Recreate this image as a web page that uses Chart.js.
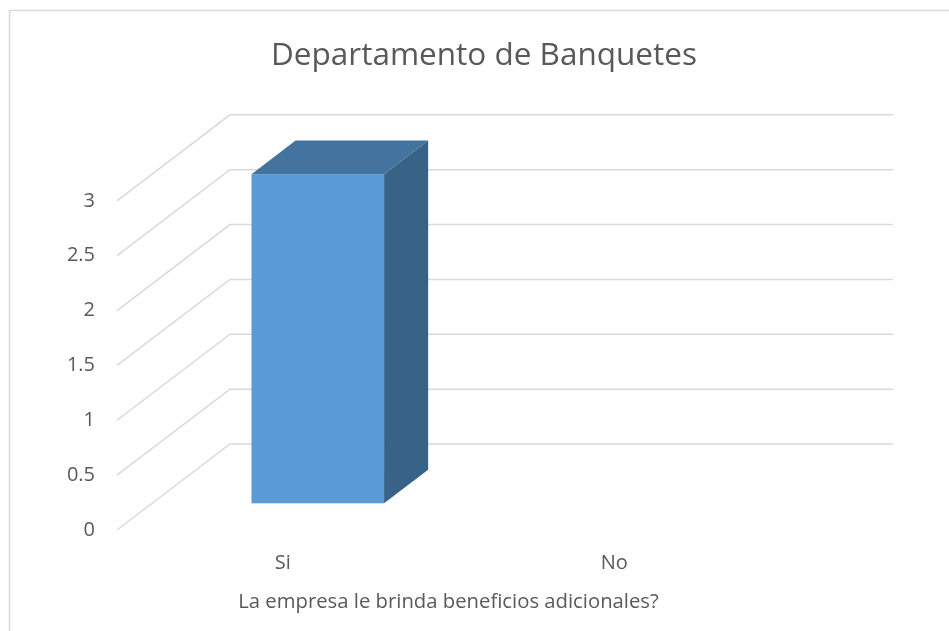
<!DOCTYPE html>
<html>
<head>
<meta charset="utf-8">
<script src="https://cdn.jsdelivr.net/npm/chart.js@4.4.0/dist/chart.umd.min.js"></script>
<style>
    html, body { margin: 0; padding: 0; background: #fff; }
    #wrap { width: 949px; height: 631px; }
</style>
</head>
<body>
<div id="wrap"><canvas id="chart" width="949" height="631"></canvas></div>
<script>
const categories = ['Si', 'No'];
const values = [3, 0];
const yTicks = [0, 0.5, 1, 1.5, 2, 2.5, 3];
const chartTitle = 'Departamento de Banquetes';
const axisTitle = 'La empresa le brinda beneficios adicionales?';

// profundidad de la vista 3D (en pixeles) y donde se ubica la barra dentro de ella
const depth = { dx: 113, dy: 86, front: 0.31, back: 0.70 };
const colors = {
    front: '#5B9BD5',
    top: '#44739F',
    side: '#386387',
    grid: '#D9D9D9',
    text: '#595959'
};
const font = "'Open Sans', sans-serif";

function fillPoly(ctx, pts, color) {
    ctx.fillStyle = color;
    ctx.beginPath();
    ctx.moveTo(pts[0][0], pts[0][1]);
    for (let i = 1; i < pts.length; i++) ctx.lineTo(pts[i][0], pts[i][1]);
    ctx.closePath();
    ctx.fill();
}

const bar3d = {
    id: 'bar3d',
    beforeDraw(chart) {
        const ctx = chart.ctx;
        ctx.save();
        ctx.strokeStyle = colors.grid;
        ctx.lineWidth = 1.5;
        ctx.strokeRect(9.5, 10.5, 1200, 1200);
        ctx.restore();
    },
    beforeDatasetsDraw(chart) {
        const ctx = chart.ctx;
        const area = chart.chartArea;
        const y = chart.scales.y;
        ctx.save();
        // paredes: diagonal del frente y linea horizontal al fondo
        ctx.strokeStyle = colors.grid;
        ctx.lineWidth = 1.5;
        y.ticks.forEach(t => {
            const fy = y.getPixelForValue(t.value);
            ctx.beginPath();
            ctx.moveTo(area.left, fy);
            ctx.lineTo(area.left + depth.dx, fy - depth.dy);
            ctx.lineTo(area.right + depth.dx, fy - depth.dy);
            ctx.stroke();
        });
        // barras en 3D
        const fx = depth.dx * depth.front, fyOff = depth.dy * depth.front;
        const ddx = depth.dx * (depth.back - depth.front);
        const ddy = depth.dy * (depth.back - depth.front);
        chart.getDatasetMeta(0).data.forEach((bar, i) => {
            if (!values[i]) return;
            const half = bar.width / 2;
            const l = bar.x - half + fx, r = bar.x + half + fx;
            const t = bar.y - fyOff, b = bar.base - fyOff;
            fillPoly(ctx, [[l, t], [r, t], [r + ddx, t - ddy], [l + ddx, t - ddy]], colors.top);
            fillPoly(ctx, [[r, t], [r + ddx, t - ddy], [r + ddx, b - ddy], [r, b]], colors.side);
            ctx.fillStyle = colors.front;
            ctx.fillRect(l, t, r - l, b - t);
        });
        ctx.restore();
        return false;
    }
};

new Chart(document.getElementById('chart'), {
    type: 'bar',
    data: {
        labels: categories,
        datasets: [{
            label: 'Serie 1',
            data: values,
            backgroundColor: colors.front,
            categoryPercentage: 1,
            barPercentage: 0.4
        }]
    },
    options: {
        responsive: false,
        animation: false,
        layout: { padding: { left: 19, top: 0, right: 0, bottom: 0 } },
        plugins: {
            legend: { display: false },
            tooltip: { enabled: false },
            title: {
                display: true,
                text: chartTitle,
                color: colors.text,
                font: { family: font, size: 31.5, weight: 'normal', lineHeight: 1.2 },
                padding: { top: 37, bottom: 126 }
            }
        },
        scales: {
            x: {
                grid: { display: false, drawTicks: false },
                border: { display: false },
                ticks: { color: colors.text, padding: 21, font: { family: font, size: 20 } },
                title: {
                    display: true,
                    text: axisTitle,
                    color: colors.text,
                    font: { family: font, size: 20.3, lineHeight: 1.2 },
                    padding: { top: 0, bottom: 17 }
                },
                afterFit: s => { s.height = 101; }
            },
            y: {
                min: 0,
                max: 3,
                grid: { display: false, drawTicks: false },
                border: { display: false },
                ticks: {
                    color: colors.text,
                    padding: 22,
                    font: { family: font, size: 20 },
                    callback: v => String(v)
                },
                afterBuildTicks: s => { s.ticks = yTicks.map(v => ({ value: v })); },
                afterFit: s => { s.width = 98; }
            },
            yRight: {
                position: 'right',
                grid: { display: false },
                border: { display: false },
                ticks: { display: false },
                afterFit: s => { s.width = 169; }
            }
        }
    },
    plugins: [bar3d]
});
</script>
</body>
</html>
